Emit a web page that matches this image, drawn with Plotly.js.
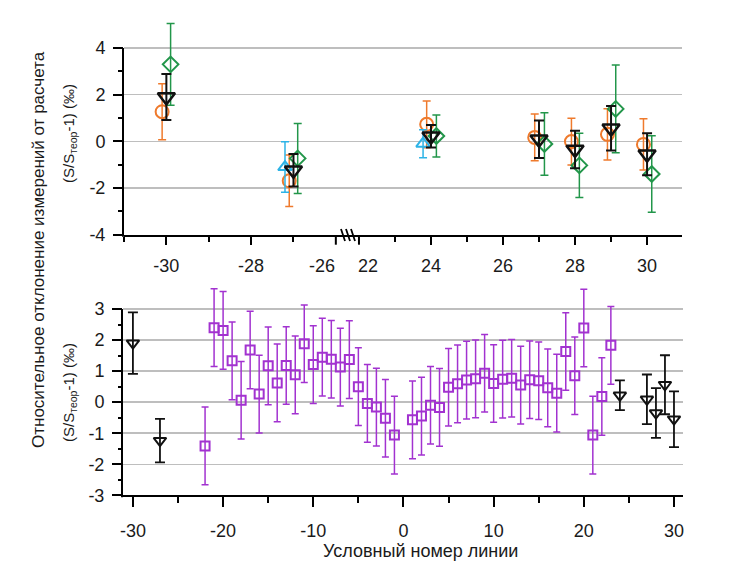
<!DOCTYPE html>
<html>
<head>
<meta charset="utf-8">
<script src="https://cdn.plot.ly/plotly-3.0.1.min.js"></script>
<style>html,body{margin:0;padding:0;background:#fff;}#chart{width:750px;height:565px;}</style>
</head>
<body>
<div id="chart"></div>
<script>
// ---------- Data (top panel) ----------
const orangeX   = [-30.1, -27.1, 23.88, 26.88, 27.9, 28.9, 29.9];
const orangeY   = [1.27, -1.69, 0.73, 0.17, -0.01, 0.30, -0.13];
const orangeErr = [1.2, 1.1, 1.0, 1.0, 1.0, 1.1, 1.1];

const cyanX   = [-27.2, 23.78];
const cyanY   = [-1.10, -0.10];
const cyanErr = [1.08, 0.6];

const greenX   = [-29.9, -26.9, 24.15, 27.15, 28.12, 29.13, 30.13];
const greenY   = [3.30, -0.73, 0.23, -0.11, -1.03, 1.39, -1.40];
const greenErr = [1.75, 1.5, 0.9, 1.34, 1.38, 1.88, 1.64];

// black triangles (same lines in both panels)
const blackX   = [-30, -27, 24, 27, 28, 29, 30];
const blackY   = [1.90, -1.24, 0.22, 0.09, -0.35, 0.56, -0.55];
const blackErr = [0.99, 0.70, 0.48, 0.80, 0.80, 0.95, 0.90];

// ---------- Data (bottom panel) ----------
const purpleX = [-22,-21,-20,-19,-18,-17,-16,-15,-14,-13,-12,-11,-10,-9,-8,-7,-6,-5,-4,-3,-2,-1,
                 1,2,3,4,5,6,7,8,9,10,11,12,13,14,15,16,17,18,19,20,21,22,23];
const purpleY = [-1.41,2.40,2.31,1.33,0.06,1.68,0.26,1.17,0.62,1.18,0.88,1.88,1.21,1.45,1.38,1.13,1.37,0.50,-0.04,-0.16,-0.52,-1.06,
                 -0.57,-0.45,-0.10,-0.17,0.48,0.59,0.71,0.75,0.93,0.60,0.74,0.77,0.55,0.72,0.69,0.46,0.29,1.63,0.85,2.39,-1.06,0.18,1.83];
const purpleErr = 1.25;

// ---------- Tick labels / texts ----------
const topLeftTicks   = [-30, -28];
const topRightTicks  = [24, 26, 28, 30];
const breakLeftTick  = -26;   // labelled beside the axis break
const breakRightTick = 22;
const topYTicks  = [-4, -2, 0, 2, 4];
const botYTicks  = [-3, -2, -1, 0, 1, 2, 3];
const botXTicks  = [-30, -20, -10, 0, 10, 20, 30];
const yTitleOuter = 'Относительное отклонение измерений от расчета';
const yTitleInner = '(S/S<sub>теор</sub>-1) (‰)';
const xTitle = 'Условный номер линии';
const lbl = arr => arr.map(v => String(v));   // plain hyphen minus, as in the original

// ---------- Geometry / styles ----------
const FONT = 'Liberation Sans, Arial, Helvetica, sans-serif';
const W = 750, H = 565;
const px = v => v / W;
const py = v => 1 - v / H;

const leftDomPx = [124, 346], leftRange = [-31.0, -25.76];
const rightDomPx = [346, 682], rightRange = [21.64, 30.97];
const toPx = (v, dom, rng) => dom[0] + (v - rng[0]) / (rng[1] - rng[0]) * (dom[1] - dom[0]);

// top panel: y=-4 at 234.7px, y=4 at 48px; room above for error bars
const topBottomPx = 234.7, topAxisTopPx = 48, topYMax = 5.3;
const topPPU = (topBottomPx - topAxisTopPx) / 8;
const topDomTopPx = topBottomPx - (topYMax + 4) * topPPU;
// bottom panel: y=-3 at 495.3px, y=3 at 309px
const botBottomPx = 495.3, botAxisTopPx = 309, botYMax = 3.8;
const botPPU = (botBottomPx - botAxisTopPx) / 6;
const botDomTopPx = botBottomPx - (botYMax + 3) * botPPU;

function split(xs, ys, errs, pred) {
  const o = {x: [], y: [], e: []};
  xs.forEach((x, i) => { if (pred(x)) { o.x.push(x); o.y.push(ys[i]); o.e.push(errs[i]); } });
  return o;
}

function topSeries(xs, ys, errs, symbol, color, size, lw, ew, cap) {
  const out = [];
  [['x', x => x < 0], ['x2', x => x >= 0]].forEach(([xa, pred]) => {
    const d = split(xs, ys, errs, pred);
    if (!d.x.length) return;
    out.push({
      type: 'scatter', mode: 'markers', x: d.x, y: d.y, xaxis: xa, yaxis: 'y',
      cliponaxis: false, hoverinfo: 'skip', showlegend: false,
      marker: {symbol: symbol, size: size, color: color, line: {color: color, width: lw}},
      error_y: {type: 'data', array: d.e, visible: true, color: color, thickness: ew, width: cap}
    });
  });
  return out;
}

const traces = [].concat(
  topSeries(orangeX, orangeY, orangeErr, 'circle-open', '#EF7A2C', 13, 2, 1.5, 4),
  topSeries(cyanX, cyanY, cyanErr, 'triangle-up-open', '#2DB3E6', 12, 2, 1.5, 4),
  topSeries(greenX, greenY, greenErr, 'diamond-open', '#22964A', 12, 2, 1.5, 4),
  topSeries(blackX, blackY, blackErr, 'triangle-down-open', '#111111', 15, 2.5, 2, 5),
  [{
    type: 'scatter', mode: 'markers', x: purpleX, y: purpleY, xaxis: 'x3', yaxis: 'y2',
    cliponaxis: false, hoverinfo: 'skip', showlegend: false,
    marker: {symbol: 'square-open', size: 9, color: '#A232D0', line: {color: '#A232D0', width: 2}},
    error_y: {type: 'constant', value: purpleErr, visible: true, color: '#A232D0', thickness: 1.5, width: 3.5}
  }, {
    type: 'scatter', mode: 'markers', x: blackX, y: blackY, xaxis: 'x3', yaxis: 'y2',
    cliponaxis: false, hoverinfo: 'skip', showlegend: false,
    marker: {symbol: 'triangle-down-open', size: 11, color: '#111111', line: {color: '#111111', width: 2}},
    error_y: {type: 'data', array: blackErr, visible: true, color: '#111111', thickness: 1.8, width: 5}
  }]
);

const axisBase = {
  showline: true, linecolor: '#000', linewidth: 2, ticks: 'outside', tickcolor: '#000',
  tickwidth: 2, zeroline: false, fixedrange: true,
  tickfont: {family: FONT, size: 18, color: '#1a1a1a'}
};
const minorBase = {ticks: 'outside', tickcolor: '#000', tickwidth: 2, showgrid: false};
const tickFont = {family: FONT, size: 18, color: '#1a1a1a'};

const breakLeftPx = toPx(breakLeftTick, leftDomPx, leftRange);
const breakRightPx = toPx(breakRightTick, rightDomPx, rightRange);

const layout = {
  width: W, height: H, margin: {l: 0, r: 0, t: 0, b: 0},
  paper_bgcolor: '#fff', plot_bgcolor: 'rgba(0,0,0,0)', showlegend: false,
  font: {family: FONT, size: 18, color: '#1a1a1a'},
  xaxis: Object.assign({}, axisBase, {
    domain: [px(leftDomPx[0]), px(leftDomPx[1])], range: leftRange, anchor: 'y', showgrid: false,
    tickmode: 'array', tickvals: topLeftTicks, ticktext: lbl(topLeftTicks), ticklen: 8, ticklabelstandoff: 6,
    minor: Object.assign({}, minorBase, {tickmode: 'array', tickvals: [-31, -29, -27], ticklen: 5})
  }),
  xaxis2: Object.assign({}, axisBase, {
    domain: [px(rightDomPx[0]), px(rightDomPx[1])], range: rightRange, anchor: 'y', showgrid: false,
    tickmode: 'array', tickvals: topRightTicks, ticktext: lbl(topRightTicks), ticklen: 8, ticklabelstandoff: 6,
    minor: Object.assign({}, minorBase, {tickmode: 'array', tickvals: [23, 25, 27, 29], ticklen: 5})
  }),
  yaxis: Object.assign({}, axisBase, {
    domain: [py(topBottomPx), py(topDomTopPx)], range: [-4, topYMax], anchor: 'x', showline: false,
    tickmode: 'array', tickvals: topYTicks, ticktext: lbl(topYTicks), ticklen: 10, ticklabelstandoff: 4,
    showgrid: true, gridcolor: '#BEBEBE', gridwidth: 1.5,
    minor: Object.assign({}, minorBase, {tickmode: 'array', tickvals: [-3, -1, 1, 3], ticklen: 5})
  }),
  xaxis3: Object.assign({}, axisBase, {
    domain: [px(123), px(683)], range: [-31.1, 31.0], anchor: 'y2', showgrid: false,
    tickmode: 'array', tickvals: botXTicks, ticktext: lbl(botXTicks), ticklen: 10, ticklabelstandoff: 8,
    minor: Object.assign({}, minorBase, {tickmode: 'linear', tick0: 5, dtick: 10, ticklen: 6})
  }),
  yaxis2: Object.assign({}, axisBase, {
    domain: [py(botBottomPx), py(botDomTopPx)], range: [-3, botYMax], anchor: 'x3', showline: false,
    tickmode: 'array', tickvals: botYTicks, ticktext: lbl(botYTicks), ticklen: 10, ticklabelstandoff: 4,
    showgrid: true, gridcolor: '#BEBEBE', gridwidth: 1.5,
    minor: Object.assign({}, minorBase, {tickmode: 'array', tickvals: [-2.5, -1.5, -0.5, 0.5, 1.5, 2.5], ticklen: 4})
  }),
  annotations: [
    {text: String(breakLeftTick), x: px(breakLeftPx - 13.5), xref: 'paper', y: py(266), yref: 'paper', showarrow: false,
     xanchor: 'center', yanchor: 'middle', font: tickFont},
    {text: String(breakRightTick), x: px(breakRightPx + 9.5), xref: 'paper', y: py(266), yref: 'paper', showarrow: false,
     xanchor: 'center', yanchor: 'middle', font: tickFont},
    {text: yTitleOuter, x: px(38), xref: 'paper', y: py(250), yref: 'paper', textangle: -90, showarrow: false,
     xanchor: 'center', yanchor: 'middle', font: {family: FONT, size: 17, color: '#1a1a1a'}},
    {text: yTitleInner, x: px(70), xref: 'paper', y: py(134), yref: 'paper', textangle: -90, showarrow: false,
     xanchor: 'center', yanchor: 'middle', font: {family: FONT, size: 15, color: '#1a1a1a'}},
    {text: yTitleInner, x: px(70), xref: 'paper', y: py(393), yref: 'paper', textangle: -90, showarrow: false,
     xanchor: 'center', yanchor: 'middle', font: {family: FONT, size: 15, color: '#1a1a1a'}},
    {text: xTitle, x: px(420), xref: 'paper', y: py(551), yref: 'paper', showarrow: false,
     xanchor: 'center', yanchor: 'middle', font: {family: FONT, size: 18, color: '#1a1a1a'}}
  ],
  shapes: [
    // y axis lines only over the labelled range
    {type: 'line', xref: 'paper', yref: 'paper', x0: px(123), x1: px(123), y0: py(topAxisTopPx), y1: py(topBottomPx + 2),
     line: {color: '#000', width: 2}},
    {type: 'line', xref: 'paper', yref: 'paper', x0: px(122), x1: px(122), y0: py(botAxisTopPx), y1: py(botBottomPx + 2),
     line: {color: '#000', width: 2}},
    // major ticks next to the axis break
    {type: 'line', xref: 'paper', yref: 'paper', x0: px(breakLeftPx), x1: px(breakLeftPx), y0: py(topBottomPx + 1), y1: py(topBottomPx + 10),
     line: {color: '#000', width: 2}},
    {type: 'line', xref: 'paper', yref: 'paper', x0: px(breakRightPx), x1: px(breakRightPx), y0: py(topBottomPx + 1), y1: py(topBottomPx + 10),
     line: {color: '#000', width: 2}}
  ].concat([0, 1, 2].map(i => ({
    // axis break marks
    type: 'line', xref: 'paper', yref: 'paper',
    x0: px(341 + i * 5), x1: px(345 + i * 5), y0: py(229), y1: py(241),
    line: {color: '#000', width: 1.8}
  })))
};

Plotly.newPlot('chart', traces, layout, {staticPlot: true, displayModeBar: false});
</script>
</body>
</html>
